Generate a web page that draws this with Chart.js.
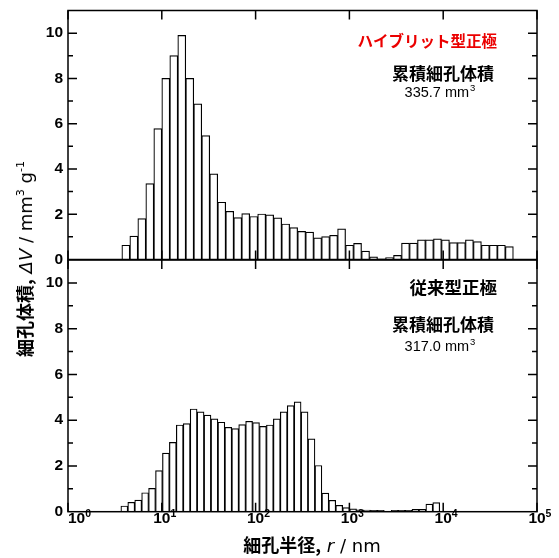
<!DOCTYPE html>
<html>
<head>
<meta charset="utf-8">
<script src="https://cdn.jsdelivr.net/npm/chart.js@4.4.1/dist/chart.umd.min.js"></script>
<style>
    body { margin: 0; background: #fff; }
    #wrap { position: relative; width: 559px; height: 558px; overflow: hidden; }
    canvas { position: absolute; left: 0; }
    .axis-title { position: absolute; white-space: nowrap; color: #000;
        font-family: "DejaVu Sans", Verdana, sans-serif; font-size: 18px; line-height: 22px; }
    .axis-title b { font-family: "Noto Sans CJK JP", sans-serif; font-weight: 700; font-size: 18px; }
    .axis-title sup { font-size: 11px; vertical-align: 8px; line-height: 0; }
    #yTitle { left: 25px; top: 259px; transform: translate(-50%, -50%) rotate(-90deg); }
    #xTitle { left: 312px; top: 545px; transform: translate(-50%, -50%); }
</style>
</head>
<body>
<div id="wrap">
    <canvas id="bottomChart" width="559" height="308" style="top:250px"></canvas>
    <canvas id="topChart" width="559" height="275" style="top:0px"></canvas>
    <div class="axis-title" id="yTitle"><b>細孔体積,</b> <i>ΔV</i> / mm<sup>3</sup> g<sup>-1</sup></div>
    <div class="axis-title" id="xTitle"><b>細孔半径,</b> <i>r</i> / nm</div>
</div>
<script>
// pore size distribution, two electrodes

// upper panel (hybrid cathode): lower edge of first bin (nm), bin ratio, volumes
const hybridRadiusStart = 3.75;
const hybridBinRatio = 1.2167;
const hybridVolume = [
    0.63, 1.03, 1.81, 3.35, 5.78, 8.0, 9.01, 9.9, 8.0, 6.88,
    5.47, 3.78, 2.53, 2.13, 1.85, 2.03, 1.9, 2.01, 1.97, 1.84,
    1.57, 1.41, 1.24, 1.21, 0.96, 1.01, 1.07, 1.35, 0.63, 0.71,
    0.37, 0.12, 0.03, 0.09, 0.18, 0.72, 0.72, 0.87, 0.87, 0.91,
    0.87, 0.75, 0.75, 0.87, 0.79, 0.63, 0.63, 0.63, 0.57
];

// lower panel (conventional cathode)
const conventionalRadiusStart = 3.66;
const conventionalBinRatio = 1.1855;
const conventionalVolume = [
    0.25, 0.41, 0.51, 0.83, 1.02, 1.8, 2.56, 3.03, 3.79, 3.85,
    4.49, 4.36, 4.22, 4.06, 3.91, 3.69, 3.63, 3.81, 3.95, 3.89,
    3.73, 3.79, 4.06, 4.36, 4.64, 4.8, 4.36, 3.18, 2.02, 0.81,
    0.5, 0.28, 0.18, 0.12, 0.08, 0.07, 0.06, 0.06, 0.02, 0.06,
    0.06, 0.06, 0.1, 0.1, 0.33, 0.4
];

const xTickExponents = [0, 1, 2, 3, 4, 5];
const yTickValues = [0, 2, 4, 6, 8, 10];
const yMax = 11;

const hybridTitle = 'ハイブリット型正極';
const conventionalTitle = '従来型正極';
const cumulativeLabel = '累積細孔体積';
const hybridTotal = '335.7';
const conventionalTotal = '317.0';

const NUM_FONT = '"Liberation Sans", Arial, sans-serif';
const JP_FONT = '"Noto Sans CJK JP", sans-serif';

function toBins(start, ratio, values) {
    return values.map((v, i) => ({ x: start * Math.pow(ratio, i + 0.5), y: v }));
}

function noPadding(s) {
    s.paddingTop = 0;
    s.paddingBottom = 0;
    s.paddingLeft = 0;
    s.paddingRight = 0;
}

// frame + inward ticks
const framePlugin = {
    id: 'frame',
    afterDatasetsDraw(chart) {
        const { ctx, chartArea: a, scales: { x, y } } = chart;
        ctx.save();
        ctx.strokeStyle = '#000';
        ctx.lineWidth = 1.5;
        ctx.strokeRect(a.left, a.top, a.right - a.left, a.bottom - a.top);
        ctx.beginPath();
        for (let v = 1; v < yMax; v++) {
            const py = y.getPixelForValue(v);
            const len = yTickValues.includes(v) ? 9 : 5;
            ctx.moveTo(a.left, py);
            ctx.lineTo(a.left + len, py);
            ctx.moveTo(a.right, py);
            ctx.lineTo(a.right - len, py);
        }
        xTickExponents.forEach(e => {
            const px = x.getPixelForValue(Math.pow(10, e));
            ctx.moveTo(px, a.bottom);
            ctx.lineTo(px, a.bottom - 9);
            ctx.moveTo(px, a.top);
            ctx.lineTo(px, a.top + 9);
        });
        ctx.stroke();
        ctx.restore();
    }
};

function drawTotal(ctx, cx, cy, value) {
    ctx.font = '14.5px ' + NUM_FONT;
    const main = value + ' mm';
    const w = ctx.measureText(main).width;
    ctx.font = '9.5px ' + NUM_FONT;
    const ws = ctx.measureText('3').width;
    const left = cx - (w + ws + 1) / 2;
    ctx.textAlign = 'left';
    ctx.textBaseline = 'alphabetic';
    ctx.font = '14.5px ' + NUM_FONT;
    ctx.fillText(main, left, cy + 5);
    ctx.font = '9.5px ' + NUM_FONT;
    ctx.fillText('3', left + w + 1, cy - 1);
}

function drawLabels(ctx, offset, title, titleColor, titleSize, total) {
    ctx.save();
    ctx.fillStyle = titleColor;
    ctx.font = '700 ' + titleSize + 'px ' + JP_FONT;
    ctx.textAlign = 'right';
    ctx.textBaseline = 'middle';
    ctx.fillText(title, 497, offset.title);
    ctx.fillStyle = '#000';
    ctx.font = '700 17px ' + JP_FONT;
    ctx.textAlign = 'center';
    ctx.fillText(cumulativeLabel, 443, offset.label);
    drawTotal(ctx, 440, offset.total, total);
    ctx.restore();
}

function makeChart(id, bins, opts) {
    return new Chart(document.getElementById(id), {
        type: 'bar',
        data: {
            datasets: [{
                data: bins,
                backgroundColor: '#ffffff',
                borderColor: '#000000',
                borderWidth: 1.2,
                barPercentage: 1,
                categoryPercentage: 1
            }]
        },
        options: {
            responsive: false,
            animation: false,
            layout: { padding: opts.padding },
            plugins: { legend: { display: false }, tooltip: { enabled: false } },
            scales: {
                x: {
                    type: 'logarithmic',
                    min: 1,
                    max: 1e5,
                    offset: false,
                    display: opts.showX,
                    grid: { display: false, drawTicks: false, offset: false },
                    border: { display: false },
                    ticks: { display: false },
                    afterBuildTicks: s => { s.ticks = xTickExponents.map(e => ({ value: Math.pow(10, e) })); },
                    afterFit: s => { s.height = opts.xHeight; noPadding(s); }
                },
                y: {
                    min: 0,
                    max: yMax,
                    grid: { display: false, drawTicks: false },
                    border: { display: false },
                    afterBuildTicks: s => { s.ticks = yTickValues.map(v => ({ value: v })); },
                    afterFit: s => { s.width = 68; noPadding(s); },
                    ticks: {
                        color: '#000',
                        padding: 5,
                        font: { family: NUM_FONT, size: 15.5, weight: 'bold' }
                    }
                }
            }
        },
        plugins: [framePlugin, opts.extra]
    });
}

// top panel
makeChart('topChart', toBins(hybridRadiusStart, hybridBinRatio, hybridVolume), {
    padding: { left: 0, right: 22, top: 10.5, bottom: 15.5 },
    showX: false,
    xHeight: 0,
    extra: {
        id: 'topText',
        afterDraw(chart) {
            drawLabels(chart.ctx, { title: 41.5, label: 74, total: 92 },
                hybridTitle, 'rgb(235,0,0)', 15.5, hybridTotal);
        }
    }
});

// bottom panel with x tick labels
makeChart('bottomChart', toBins(conventionalRadiusStart, conventionalBinRatio, conventionalVolume), {
    padding: { left: 0, right: 22, top: 10, bottom: 0 },
    showX: true,
    xHeight: 46.3,
    extra: {
        id: 'bottomText',
        afterDraw(chart) {
            const { ctx, chartArea: a, scales: { x } } = chart;
            drawLabels(ctx, { title: 37, label: 75, total: 96 },
                conventionalTitle, '#000', 17.5, conventionalTotal);

            ctx.save();
            ctx.fillStyle = '#000';
            ctx.textBaseline = 'alphabetic';
            xTickExponents.forEach(e => {
                ctx.font = 'bold 15.5px ' + NUM_FONT;
                ctx.textAlign = 'center';
                const w = ctx.measureText('10').width;
                let px = x.getPixelForValue(Math.pow(10, e));
                px = Math.max(px, a.left + w / 2);
                ctx.fillText('10', px, a.bottom + 11);
                ctx.font = 'bold 10.5px ' + NUM_FONT;
                ctx.textAlign = 'left';
                ctx.fillText(String(e), px + w / 2, a.bottom + 5.5);
            });
            ctx.restore();
        }
    }
});
</script>
</body>
</html>
